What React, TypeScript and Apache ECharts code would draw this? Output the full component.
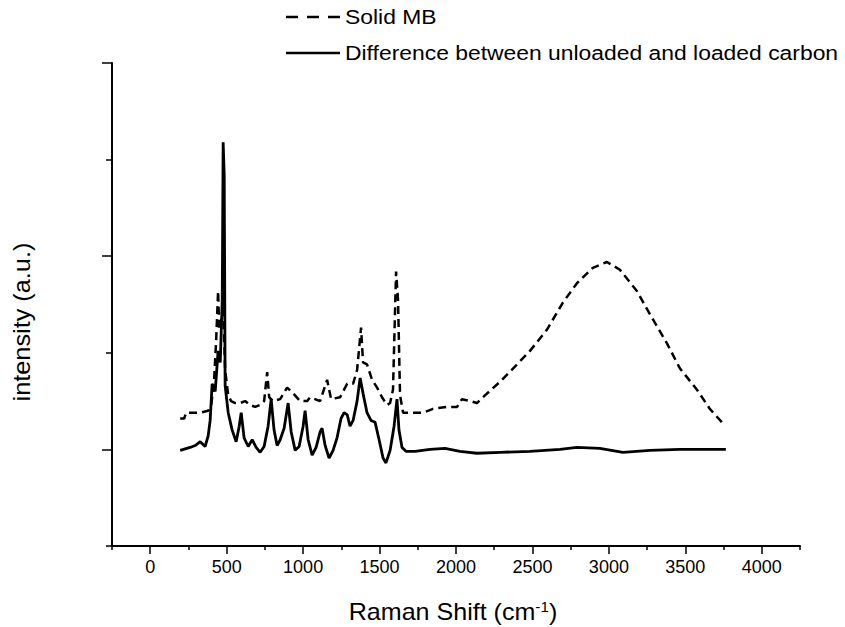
import React, { useEffect, useRef } from "react";
import * as echarts from "echarts";

// Raman shift (cm-1) vs intensity (a.u.)
const solidMB: [number, number][] = [
  [196, 0.16], [222, 0.16], [235, 0.19], [327, 0.19], [379, 0.2], [399, 0.23], [418, 0.36],
  [431, 0.56], [444, 0.82], [451, 0.62], [464, 0.67], [477, 0.75], [490, 0.41], [510, 0.28],
  [529, 0.25], [556, 0.24], [588, 0.24], [621, 0.25], [654, 0.23], [686, 0.22], [719, 0.23],
  [745, 0.25], [765, 0.4], [778, 0.27], [804, 0.25], [850, 0.26], [895, 0.32], [935, 0.29],
  [980, 0.25], [1026, 0.25], [1046, 0.27], [1111, 0.25], [1157, 0.36], [1183, 0.26], [1242, 0.27],
  [1288, 0.34], [1327, 0.34], [1353, 0.41], [1379, 0.63], [1392, 0.45], [1418, 0.44], [1451, 0.36],
  [1484, 0.32], [1516, 0.27], [1549, 0.23], [1569, 0.24], [1588, 0.31], [1608, 0.92], [1621, 0.77],
  [1634, 0.28], [1654, 0.19], [1719, 0.19], [1784, 0.19], [1850, 0.21], [1941, 0.22], [2007, 0.22],
  [2039, 0.26], [2092, 0.25], [2137, 0.24], [2176, 0.27], [2288, 0.35], [2399, 0.44], [2484, 0.51],
  [2595, 0.62], [2699, 0.76], [2791, 0.86], [2895, 0.94], [2987, 0.97], [3072, 0.93], [3183, 0.82],
  [3268, 0.7], [3379, 0.55], [3464, 0.42], [3575, 0.31], [3660, 0.21], [3745, 0.135],
];

const difference: [number, number][] = [
  [196, -0.005], [261, 0.01], [294, 0.02], [327, 0.04], [359, 0.015], [379, 0.07], [392, 0.15],
  [405, 0.34], [425, 0.3], [444, 0.51], [458, 0.45], [471, 0.77], [477, 1.59], [484, 1.42],
  [490, 0.33], [510, 0.19], [536, 0.1], [562, 0.04], [582, 0.12], [595, 0.19], [614, 0.06],
  [641, 0.015], [667, 0.05], [693, 0.01], [719, -0.015], [745, 0.015], [771, 0.12], [791, 0.26],
  [810, 0.1], [830, 0.02], [850, 0.05], [876, 0.11], [902, 0.24], [922, 0.09], [948, -0.005],
  [974, 0.015], [1000, 0.12], [1013, 0.2], [1033, 0.05], [1059, -0.03], [1085, 0.01], [1111, 0.09],
  [1124, 0.11], [1144, 0.02], [1170, -0.045], [1196, -0.005], [1222, 0.06], [1248, 0.16],
  [1268, 0.19], [1288, 0.18], [1307, 0.12], [1327, 0.15], [1353, 0.25], [1373, 0.37], [1392, 0.29],
  [1418, 0.19], [1444, 0.15], [1471, 0.14], [1497, 0.05], [1523, -0.045], [1542, -0.07],
  [1569, -0.005], [1595, 0.12], [1614, 0.26], [1627, 0.1], [1647, 0.01], [1673, -0.01],
  [1732, -0.01], [1830, 0], [1928, 0.005], [2026, -0.01], [2137, -0.02], [2288, -0.015],
  [2484, -0.01], [2680, 0], [2791, 0.01], [2941, 0.005], [3092, -0.015], [3268, -0.005],
  [3464, 0], [3595, 0], [3765, 0],
];

const xMajorTicks = [0, 500, 1000, 1500, 2000, 2500, 3000, 3500, 4000];
const xMinorTicks = [-250, 250, 750, 1250, 1750, 2250, 2750, 3250, 3750, 4250];
const yMajorTicks = [0, 1, 2];
const yMinorTicks = [-0.5, 0.5, 1.5];

const legendNames = ["Solid MB", "Difference between unloaded and loaded carbon"];
const xTitle = "Raman Shift (cm{sup|-1})";
const yTitle = "intensity (a.u.)";

const FONT = "'Liberation Sans', Arial, sans-serif";

export default function App() {
  const ref = useRef<HTMLDivElement>(null);
  useEffect(() => {
    if (!ref.current) return;
    const chart = echarts.init(ref.current, undefined, { renderer: "svg" });
    const axisCommon = {
      type: "value" as const,
      splitLine: { show: false },
    };
    chart.setOption({
      animation: false,
      backgroundColor: "#ffffff",
      grid: { left: 112, right: 45, top: 63, bottom: 81, containLabel: false },
      xAxis: [
        {
          ...axisCommon,
          min: -250,
          max: 4250,
          position: "bottom",
          axisLine: { show: true, onZero: false, lineStyle: { color: "#000", width: 2 } },
          axisTick: { show: true, customValues: xMajorTicks, length: 8, lineStyle: { color: "#000", width: 1.5 } },
          axisLabel: {
            show: true,
            customValues: xMajorTicks,
            margin: 12,
            color: "#000",
            fontSize: 18,
            fontFamily: FONT,
            formatter: (v: number) => String(v),
          },
        },
        {
          ...axisCommon,
          min: -250,
          max: 4250,
          position: "bottom",
          axisLine: { show: false, onZero: false },
          axisTick: { show: true, customValues: xMinorTicks, length: 4, lineStyle: { color: "#000", width: 1.5 } },
          axisLabel: { show: false },
        },
      ],
      yAxis: [
        {
          ...axisCommon,
          min: -0.5,
          max: 2,
          position: "left",
          axisLine: { show: true, onZero: false, lineStyle: { color: "#000", width: 2 } },
          axisTick: { show: true, customValues: yMajorTicks, length: 10, lineStyle: { color: "#000", width: 1.5 } },
          axisLabel: { show: false },
        },
        {
          ...axisCommon,
          min: -0.5,
          max: 2,
          position: "left",
          axisLine: { show: false, onZero: false },
          axisTick: { show: true, customValues: yMinorTicks, length: 6, lineStyle: { color: "#000", width: 1.5 } },
          axisLabel: { show: false },
        },
      ],
      series: [
        {
          name: legendNames[0],
          type: "line",
          data: solidMB,
          showSymbol: false,
          symbol: "none",
          lineStyle: { color: "#000", width: 2.5, type: [8, 5] },
          z: 2,
        },
        {
          name: legendNames[1],
          type: "line",
          data: difference,
          showSymbol: false,
          symbol: "none",
          lineStyle: { color: "#000", width: 2.8 },
          z: 3,
        },
      ],
      graphic: [
        {
          type: "line",
          shape: { x1: 286, y1: 17, x2: 340, y2: 17 },
          style: { stroke: "#000", lineWidth: 2.5, lineDash: [12, 9] },
        },
        {
          type: "text",
          x: 345,
          y: 17,
          scaleX: 1.09,
          style: {
            text: legendNames[0],
            fill: "#000",
            font: `21px ${FONT}`,
            textAlign: "left",
            textVerticalAlign: "middle",
          },
        },
        {
          type: "line",
          shape: { x1: 286, y1: 53, x2: 340, y2: 53 },
          style: { stroke: "#000", lineWidth: 2.5 },
        },
        {
          type: "text",
          x: 345,
          y: 53,
          scaleX: 1.09,
          style: {
            text: legendNames[1],
            fill: "#000",
            font: `21px ${FONT}`,
            textAlign: "left",
            textVerticalAlign: "middle",
          },
        },
        {
          type: "text",
          x: 453,
          y: 612,
          scaleX: 1.09,
          style: {
            text: xTitle,
            fill: "#000",
            fontSize: 23,
            fontFamily: FONT,
            align: "center",
            verticalAlign: "middle",
            rich: {
              sup: { fontSize: 14, fontFamily: FONT, fill: "#000", verticalAlign: "top", padding: [0, 0, 10, 0] },
            },
          },
        },
        {
          type: "text",
          x: 22,
          y: 322,
          rotation: Math.PI / 2,
          scaleX: 1.1,
          style: {
            text: yTitle,
            fill: "#000",
            fontSize: 23,
            fontFamily: FONT,
            align: "center",
            verticalAlign: "middle",
          },
        },
      ],
    });
    return () => chart.dispose();
  }, []);
  return (
    <div
      ref={ref}
      style={{ position: "fixed", left: 0, top: 0, width: 845, height: 627, background: "#fff" }}
    />
  );
}
